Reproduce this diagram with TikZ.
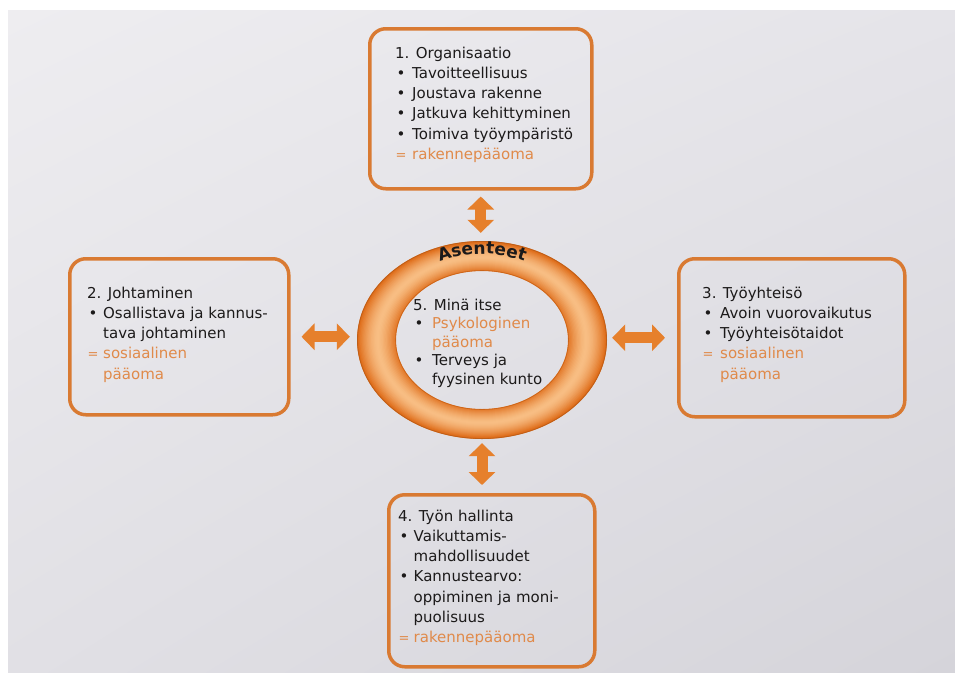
\documentclass[tikz,border=0pt]{standalone}
\usepackage{fontspec}
\setmainfont{DejaVu Sans}
\usetikzlibrary{shapes.geometric,arrows.meta,decorations.text,shadings}
\definecolor{boxorange}{HTML}{D97A32}
\definecolor{txtorange}{HTML}{E08A4A}
\definecolor{arrorange}{HTML}{E6802C}
\definecolor{ringdark}{HTML}{E06F1C}
\definecolor{ringlight}{HTML}{F8BE84}
\definecolor{txtdark}{HTML}{1C1A1A}
\definecolor{bgA}{HTML}{EEEDF0}
\definecolor{bgB}{HTML}{E5E4E9}
\definecolor{bgC}{HTML}{E1E0E5}
\definecolor{bgD}{HTML}{D5D4DA}
\newcommand{\bul}{\hspace{1.5pt}\textbullet}
\newcommand{\og}[1]{\textcolor{txtorange}{#1}}
\newcommand{\eqs}{\textcolor{txtorange}{\fontsize{13}{13}\selectfont\hspace{0.5pt}=}}
\tikzset{
  box/.style={draw=boxorange, line width=3.5pt, rounded corners=16pt, anchor=north west, inner sep=0pt},
  txt/.style={anchor=base west, inner sep=0pt, text=txtdark, font=\fontsize{15}{20.3}\selectfont},
  dblarrow/.style={line width=11pt, draw=arrorange,
    {Triangle[width=26pt,length=13pt]}-{Triangle[width=26pt,length=13pt]}}
}
\begin{document}
\begin{tikzpicture}[x=1pt,y=-1pt]
\useasboundingbox (0,0) rectangle (955,672);
\fill[white] (0,0) rectangle (955,672);
\shade[upper left=bgA, upper right=bgB, lower left=bgC, lower right=bgD] (8,10) rectangle (955,672);

% boxes
\node[box, minimum width=222, minimum height=160] (b1) at (368,27) {};
\node[box, minimum width=219, minimum height=156] (b2) at (68,257) {};
\node[box, minimum width=226, minimum height=158] (b3) at (677,257) {};
\node[box, minimum width=206, minimum height=172] (b4) at (387,493) {};

% ring
\node[ellipse, minimum width=248, minimum height=196, inner sep=0pt] (ring) at (482,340) {};
\foreach \i in {0,...,28}{
  \pgfmathsetmacro\t{\i/28}
  \pgfmathsetmacro\rx{87+37*\t}
  \pgfmathsetmacro\ry{70+28*\t}
  \pgfmathsetmacro\p{max(0,100*(1-(abs(\t-0.48)/0.52)^1.5))}
  \draw[line width=2pt, color=ringlight!\p!ringdark] (ring.center) ellipse[x radius=\rx, y radius=\ry];
}
\draw[line width=0.8pt, ringdark!85!black] (ring.center) ellipse[x radius=124.5, y radius=98.5];
\draw[line width=0.6pt, ringdark!90!black] (ring.center) ellipse[x radius=86.5, y radius=69.5];
\path[decorate, decoration={text along path, text align=center,
   text={|\fontsize{17}{18}\selectfont\bfseries\color{txtdark}|Asenteet}}]
  (ring.center) ++(205:102 and 86) arc[start angle=205, end angle=335, x radius=102, y radius=86];

% arrows
\draw[dblarrow, shorten <=6pt, shorten >=9pt] (b1.south) -- (b1.south |- ring.north);
\draw[dblarrow, shorten <=5pt, shorten >=8pt] (ring.south) -- (ring.south |- b4.north);
\draw[dblarrow, shorten <=11pt, shorten >=8pt] (b2.east) -- (b2.east -| ring.west);
\draw[dblarrow, shorten <=6pt, shorten >=12pt] (ring.east |- b3.west) -- (b3.west);

% texts
\node[txt] (t1) at (395,58) {\begin{tabular}[t]{@{}p{17pt}@{}l@{}}
\multicolumn{2}{@{}l@{}}{1. Organisaatio}\\
\bul & Tavoitteellisuus\\
\bul & Joustava rakenne\\
\bul & Jatkuva kehittyminen\\
\bul & Toimiva työympäristö\\
\eqs & \og{rakennepääoma}\\
\end{tabular}};

\node[txt] (t2) at (87,298) {\begin{tabular}[t]{@{}p{16pt}@{}l@{}}
\multicolumn{2}{@{}l@{}}{2. Johtaminen}\\
\bul & Osallistava ja kannus-\\
 & tava johtaminen\\
\eqs & \og{sosiaalinen}\\
 & \og{pääoma}\\
\end{tabular}};

\node[txt] (t3) at (702,298) {\begin{tabular}[t]{@{}p{18pt}@{}l@{}}
\multicolumn{2}{@{}l@{}}{3. Työyhteisö}\\
\bul & Avoin vuorovaikutus\\
\bul & Työyhteisötaidot\\
\eqs & \og{sosiaalinen}\\
 & \og{pääoma}\\
\end{tabular}};

\node[txt] (t4) at (398,521) {\begin{tabular}[t]{@{}p{15.5pt}@{}l@{}}
\multicolumn{2}{@{}l@{}}{4. Työn hallinta}\\
\bul & Vaikuttamis-\\
 & mahdollisuudet\\
\bul & Kannustearvo:\\
 & oppiminen ja moni-\\
 & puolisuus\\
\eqs & \og{rakennepääoma}\\
\end{tabular}};

\node[txt, font=\fontsize{15}{18.5}\selectfont] (t5) at (413,310) {\begin{tabular}[t]{@{}p{19pt}@{}l@{}}
\multicolumn{2}{@{}l@{}}{5. Minä itse}\\
\bul & \og{Psykologinen}\\
 & \og{pääoma}\\
\bul & Terveys ja\\
 & fyysinen kunto\\
\end{tabular}};
\end{tikzpicture}
\end{document}
